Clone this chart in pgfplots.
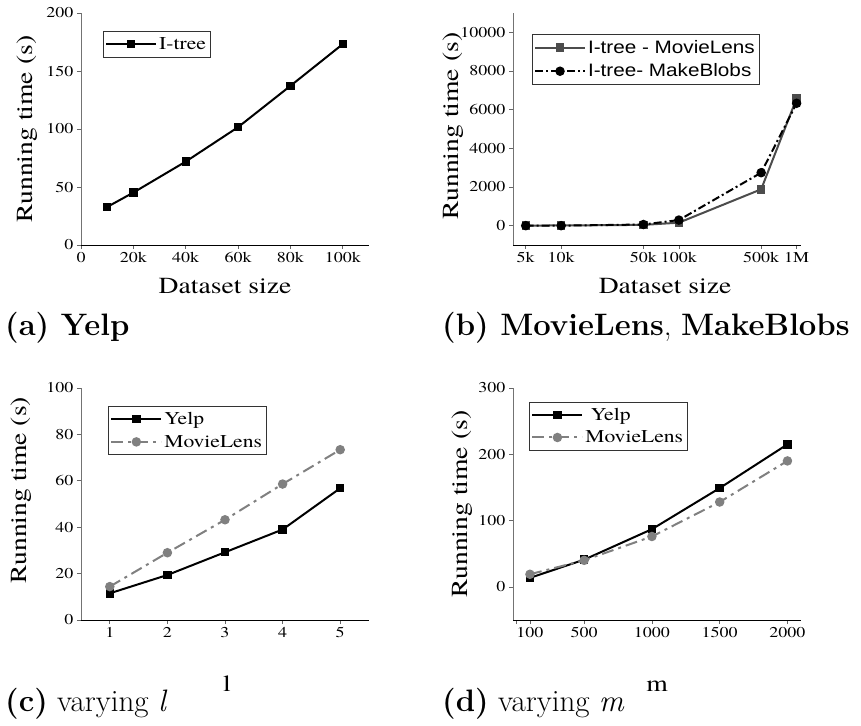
\documentclass[border=0pt]{standalone}
\usepackage{fontspec}
\usepackage{pgfplots}
\pgfplotsset{compat=1.18}
\newfontfamily\timesfont{texgyretermes-regular.otf}[FakeStretch=1.2]
\newfontfamily\arialfont[FakeStretch=1.15]{Liberation Sans}
\pgfplotsset{
 myax/.style={
  scale only axis, width=288pt, height=232pt,
  axis lines=left, axis line style={-, line width=0.8pt},
  y axis line style={black!55}, x axis line style={black},
  tick align=outside, major tick length=4pt,
  tick style={line width=0.7pt, black!60},
  ticklabel style={font=\timesfont\fontsize{15}{15}\selectfont},
  /pgf/number format/assume math mode=true,
  /pgf/number format/1000 sep={},
  scaled ticks=false,
  label style={font=\timesfont\fontsize{23}{23}\selectfont},
  legend style={font=\timesfont\fontsize{18}{20}\selectfont, draw=black!80, line width=0.6pt, anchor=north west, inner xsep=2pt, inner ysep=4pt, row sep=5pt},
  legend cell align=left,
  legend image code/.code={\draw[mark repeat=2,mark phase=2] plot coordinates {(0pt,0pt) (25pt,0pt) (50pt,0pt)};},
  clip=false,
 }
}
\begin{document}
\begin{tikzpicture}
% (a)
\begin{axis}[myax, at={(81pt,480pt)}, anchor=south west,
  xmin=0, xmax=110000, ymin=0, ymax=200,
  xtick={0,20000,40000,60000,80000,100000}, xticklabels={0,20k,40k,60k,80k,100k},
  ytick={0,50,100,150,200},
  xlabel={Dataset size}, ylabel={Running time (s)},
  xlabel style={at={(axis description cs:0.5,-0.207)}, anchor=base},
  ylabel style={at={(axis description cs:-0.1875,0.5)}, anchor=center},
  legend style={at={(0.076,0.922)}}]
\addplot[black, line width=2pt, mark=square*, mark size=3.2pt] coordinates {(10000,32.8) (20000,45.2) (40000,71.9) (60000,101.6) (80000,137.2) (100000,173.2)};
\addlegendentry{I-tree}
\end{axis}
% (b)
\begin{axis}[myax, at={(513pt,480pt)}, anchor=south west,
  xmode=log, xmin=3900, xmax=1090000, ymin=-1000, ymax=11000,
  xtick={5000,10000,50000,100000,500000,1000000}, xticklabels={5k,10k,50k,100k,500k,1M},
  xminorticks=false,
  ytick={0,2000,4000,6000,8000,10000},
  xlabel={Dataset size}, ylabel={Running time (s)},
  xlabel style={at={(axis description cs:0.528,-0.207)}, anchor=base},
  ylabel style={at={(axis description cs:-0.209,0.513)}, anchor=center},
  legend style={at={(0.065,0.909)}, font=\arialfont\fontsize{18}{20}\selectfont}]
\addplot[black!70, line width=2pt, mark=square*, mark size=3.2pt] coordinates {(5000,5) (10000,10) (50000,40) (100000,155) (500000,1880) (1000000,6580)};
\addlegendentry{I-tree - MovieLens}
\addplot[black, line width=2pt, dash pattern=on 8pt off 3pt on 2pt off 3pt, mark=*, mark size=3.7pt, mark options={solid}] coordinates {(5000,0) (10000,0) (50000,60) (100000,290) (500000,2740) (1000000,6330)};
\addlegendentry{I-tree- MakeBlobs}
\end{axis}
% (c)
\begin{axis}[myax, at={(81pt,105pt)}, anchor=south west,
  xmin=0.5, xmax=5.5, ymin=0, ymax=100,
  xtick={1,2,3,4,5}, ytick={0,20,40,60,80,100},
  xlabel={l}, ylabel={Running time (s)},
  xlabel style={at={(axis description cs:0.507,-0.31)}, anchor=base},
  ylabel style={at={(axis description cs:-0.206,0.56)}, anchor=center},
  legend style={at={(0.094,0.922)}}]
\addplot[black, line width=2pt, mark=square*, mark size=3.2pt] coordinates {(1,11.5) (2,19.4) (3,29.2) (4,39) (5,56.8)};
\addlegendentry{Yelp}
\addplot[black!50, line width=2pt, dash pattern=on 12pt off 5pt on 3pt off 5pt, mark=*, mark size=3.7pt, mark options={solid}] coordinates {(1,14.4) (2,29) (3,43.2) (4,58.6) (5,73.4)};
\addlegendentry{MovieLens}
\end{axis}
% (d)
\begin{axis}[myax, at={(513pt,105pt)}, anchor=south west,
  xmin=-25, xmax=2100, ymin=-50, ymax=300,
  xtick={0,100,500,1000,1500,2000}, xticklabels={,100,500,1000,1500,2000},
  ytick={0,100,200,300},
  xlabel={m}, ylabel={Running time (s)},
  xlabel style={at={(axis description cs:0.5,-0.31)}, anchor=base},
  ylabel style={at={(axis description cs:-0.178,0.5)}, anchor=center},
  legend style={at={(0.056,0.941)}}]
\addplot[black, line width=2pt, mark=square*, mark size=3.2pt] coordinates {(100,13.6) (500,41) (1000,87) (1500,149) (2000,215)};
\addlegendentry{\ Yelp}
\addplot[black!50, line width=2pt, dash pattern=on 12pt off 5pt on 3pt off 5pt, mark=*, mark size=3.7pt, mark options={solid}] coordinates {(100,19) (500,40) (1000,76) (1500,128) (2000,190)};
\addlegendentry{MovieLens}
\end{axis}
\node[anchor=base west, inner sep=0pt, font=\fontsize{31}{31}\selectfont] at (5pt,389.5pt) {\textbf{(a) Yelp}};
\node[anchor=base west, inner sep=0pt, font=\fontsize{31}{31}\selectfont] at (442pt,389.5pt) {\textbf{(b) MovieLens}, \textbf{MakeBlobs}};
\node[anchor=base west, inner sep=0pt, font=\fontsize{31}{31}\selectfont] at (5pt,14pt) {\textbf{(c)} varying \textit{l}};
\node[anchor=base west, inner sep=0pt, font=\fontsize{31}{31}\selectfont] at (442pt,14pt) {\textbf{(d)} varying \textit{m}};
\pgfresetboundingbox
\useasboundingbox (0pt,0pt) rectangle (861pt,725pt);
\end{tikzpicture}
\end{document}
